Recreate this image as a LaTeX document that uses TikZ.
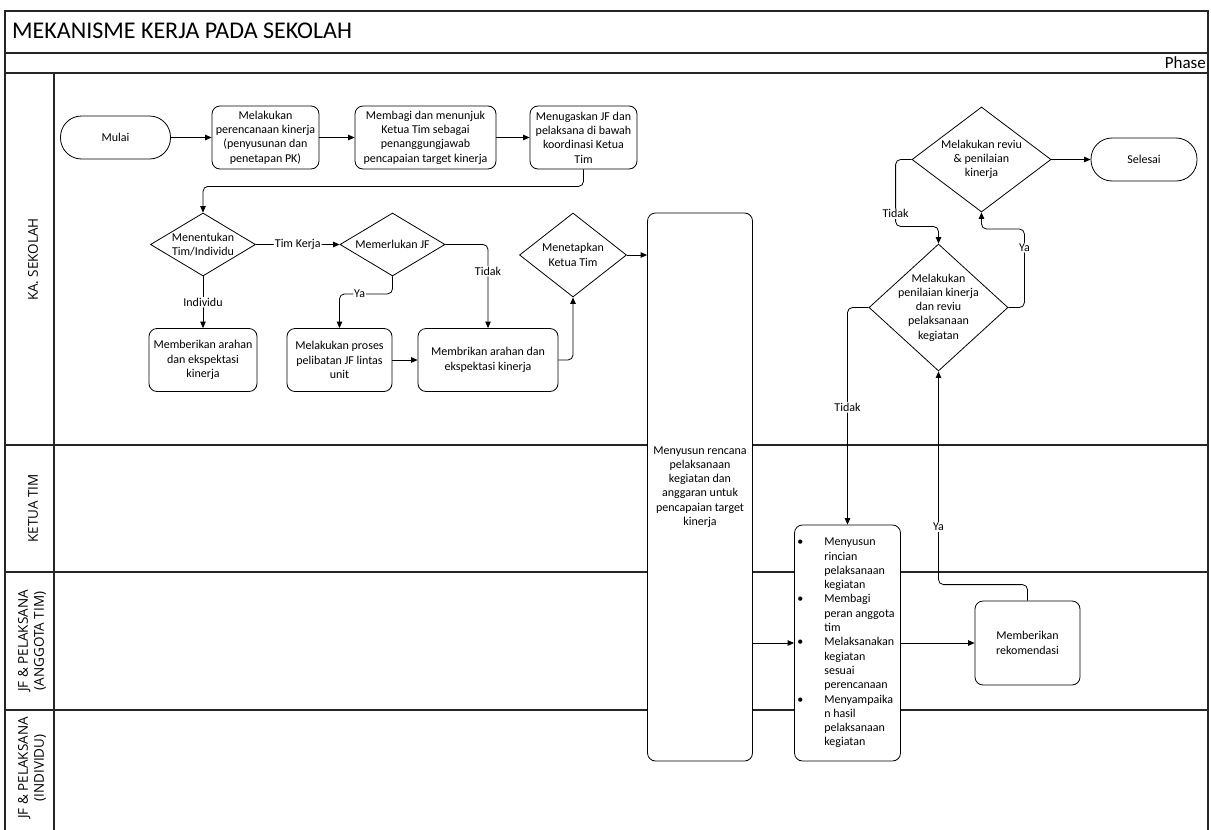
\documentclass[tikz,border=0pt]{standalone}
\usepackage{fontspec}
\setmainfont{Carlito}
\newfontfamily\lanefont{Open Sans}
\usetikzlibrary{arrows.meta,shapes.geometric}
\begin{document}
\begin{tikzpicture}[x=1pt,y=-1pt,
  every node/.style={font=\fontsize{12}{14.3}\selectfont},
  frame/.style={line width=1.1pt, black!85},
  proc/.style={draw, fill=white, line width=0.8pt, rounded corners=8pt, align=center, inner sep=0pt},
  term/.style={draw, fill=white, line width=0.8pt, rounded corners=21pt, align=center, inner sep=0pt},
  dia/.style={draw, fill=white, line width=0.8pt, diamond, inner sep=0pt},
  dtext/.style={align=center, inner sep=0pt},
  arr/.style={line width=0.8pt, rounded corners=5pt, -{Triangle[length=6.5pt,width=5.5pt]}},
  lbl/.style={fill=white, inner sep=1pt},
  lane/.style={rotate=90, align=center, font=\lanefont\fontsize{13.5}{16}\selectfont}
]
\useasboundingbox (0,0) rectangle (1211,830);
% frame
\draw[frame] (5,11) rectangle (1208,845);
\draw[frame] (5,53) -- (1208,53);
\draw[frame] (5,73) -- (1208,73);
\draw[frame] (54,73) -- (54,845);
\draw[frame] (5,445) -- (1208,445);
\draw[frame] (5,572) -- (1208,572);
\draw[frame] (5,710) -- (1208,710);
\node[anchor=base west, inner sep=0pt, font=\fontsize{24}{28}\selectfont] (title) at (12,38.5) {MEKANISME KERJA PADA SEKOLAH};
\node[anchor=base east, inner sep=0pt, font=\fontsize{17}{20}\selectfont] (phase) at (1206,68.5) {Phase};
\node[lane] (l1) at (33,259.5) {KA. SEKOLAH};
\node[lane] (l2) at (33,508.5) {KETUA TIM};
\node[lane] (l3) at (32,641) {JF \& PELAKSANA\\(ANGGOTA TIM)};
\node[lane] (l4) at (32,768) {JF \& PELAKSANA\\(INDIVIDU)};

% nodes
\node[term, minimum width=110pt, minimum height=43pt] (start) at (115.5,137.5) {Mulai};
\node[proc, minimum width=107pt, minimum height=63pt] (p1) at (265.5,137.5) {Melakukan\\perencanaan kinerja\\(penyusunan dan\\penetapan PK)};
\node[proc, minimum width=141pt, minimum height=63pt] (p2) at (425.5,137.5) {Membagi dan menunjuk\\Ketua Tim sebagai\\penanggungjawab\\pencapaian target kinerja};
\node[proc, minimum width=107pt, minimum height=63pt] (p3) at (583.5,137.5) {Menugaskan JF dan\\pelaksana di bawah\\koordinasi Ketua\\Tim};

\node[dia, minimum width=105pt, minimum height=63pt] (d1) at (203,244.5) {};
\node[dtext] (d1t) at (d1) {Menentukan\\Tim/Individu};
\node[dia, minimum width=105pt, minimum height=63pt] (d2) at (392.5,244.5) {};
\node[dtext] (d2t) at (d2) {Memerlukan JF};
\node[dia, minimum width=107pt, minimum height=84pt] (d3) at (573,255) {};
\node[dtext] (d3t) at (d3) {Menetapkan\\Ketua Tim};

\node[proc, minimum width=108pt, minimum height=63pt] (pind) at (203,360) {Memberikan arahan\\dan ekspektasi\\kinerja};
\node[proc, minimum width=105pt, minimum height=63pt] (p4) at (339.5,360) {Melakukan proses\\pelibatan JF lintas\\unit};
\node[proc, minimum width=140pt, minimum height=63pt] (p5) at (488,360) {Membrikan arahan dan\\ekspektasi kinerja};

\node[proc, minimum width=105pt, minimum height=548pt] (big) at (700,487) {Menyusun rencana\\pelaksanaan\\kegiatan dan\\anggaran untuk\\pencapaian target\\kinerja};
\node[proc, minimum width=106pt, minimum height=236pt, align=left] (bul) at (847.5,643) {\makebox[24pt][l]{\hspace{-3pt}•}Menyusun\\\hspace*{24pt}rincian\\\hspace*{24pt}pelaksanaan\\\hspace*{24pt}kegiatan\\\makebox[24pt][l]{\hspace{-3pt}•}Membagi\\\hspace*{24pt}peran anggota\\\hspace*{24pt}tim\\\makebox[24pt][l]{\hspace{-3pt}•}Melaksanakan\\\hspace*{24pt}kegiatan\\\hspace*{24pt}sesuai\\\hspace*{24pt}perencanaan\\\makebox[24pt][l]{\hspace{-3pt}•}Menyampaika\\\hspace*{24pt}n hasil\\\hspace*{24pt}pelaksanaan\\\hspace*{24pt}kegiatan};
\node[proc, minimum width=105pt, minimum height=84pt] (rek) at (1027.5,643) {Memberikan\\rekomendasi};

\node[dia, minimum width=139pt, minimum height=127pt] (d4) at (938.5,307.5) {};
\node[dtext] (d4t) at (d4) {Melakukan\\penilaian kinerja\\dan reviu\\pelaksanaan\\kegiatan};
\node[dia, minimum width=139pt, minimum height=105pt] (d5) at (981.5,159.5) {};
\node[dtext] (d5t) at (d5) {Melakukan reviu\\\& penilaian\\kinerja};
\node[term, minimum width=106pt, minimum height=43pt] (end) at (1144,159.5) {Selesai};

% connectors
\draw[arr] (start.east) -- (p1.west);
\draw[arr] (p1.east) -- (p2.west);
\draw[arr] (p2.east) -- (p3.west);
\draw[arr] (p3.south) -- ++(0,17) -| (d1.north);
\draw[arr] (d1.east) -- node[lbl]{Tim Kerja} (d2.west);
\draw[arr] (d1.south) -- node[lbl]{Individu} (pind.north);
\draw[arr] (d2.east) -| node[lbl, pos=0.66]{Tidak} (p5.north);
\draw[arr] (d2.south) -- ++(0,17.5) -| node[lbl, pos=0.31]{Ya} (p4.north);
\draw[arr] (p4.east) -- (p5.west);
\draw[arr] (p5.east) -| (d3.south);
\draw[arr] (d3.east) -- (big.west |- d3.east);
\draw[arr] (big.east |- bul.west) -- (bul.west);
\draw[arr] (bul.east) -- (rek.west);
\draw[arr] (rek.north) -- ++(0,-16) -| node[lbl, pos=0.635]{Ya} (d4.south);
\draw[arr] (d4.west) -| node[lbl, pos=0.73]{Tidak} (bul.north);
\draw[arr] (d4.east) -- ++(16,0) -- node[lbl, pos=0.76]{Ya} ++(0,-78.5) -| (d5.south);
\draw[arr] (d5.west) -- ++(-16,0) -- node[lbl, pos=0.81]{Tidak} ++(0,67) -| (d4.north);
\draw[arr] (d5.east) -- (end.west);
\end{tikzpicture}
\end{document}
